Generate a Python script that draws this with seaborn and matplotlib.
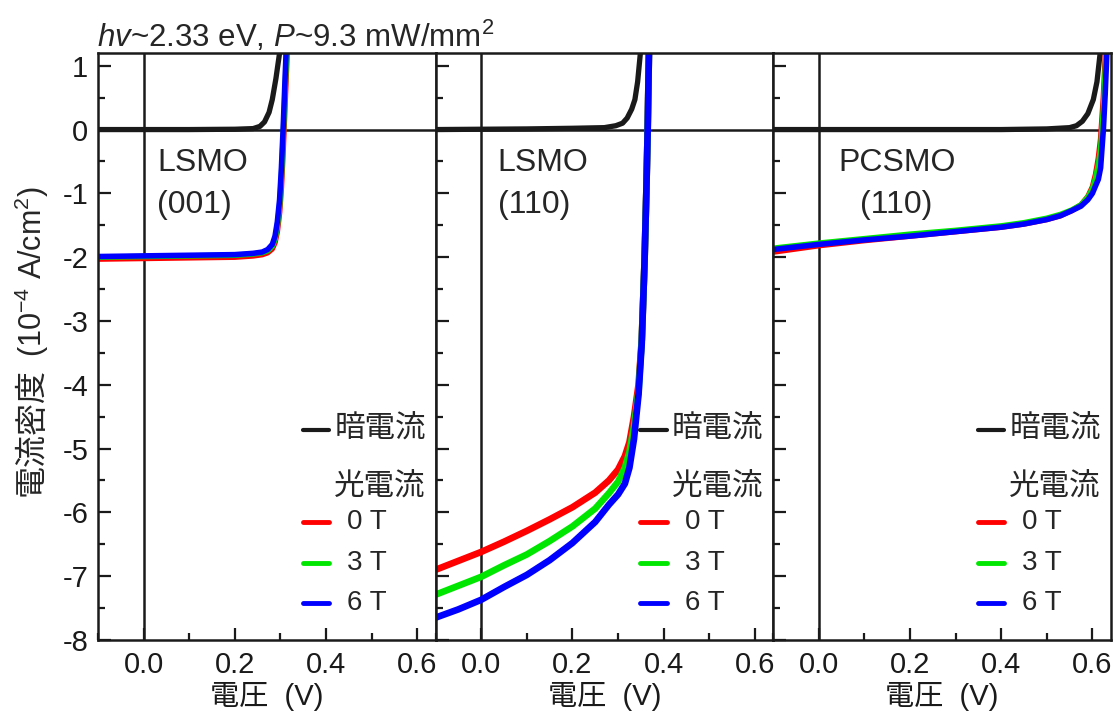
import matplotlib.pyplot as plt
from matplotlib.ticker import MultipleLocator
import seaborn as sns

# ---- data (voltage in V, current density in 1e-4 A/cm^2) ----
# LSMO (001)
v_dark_001 = [-0.1, 0.0, 0.1, 0.2, 0.24, 0.255, 0.265, 0.275, 0.282, 0.29, 0.298, 0.304]
j_dark_001 = [0.0, 0.0, 0.0, 0.005, 0.015, 0.05, 0.12, 0.27, 0.47, 0.8, 1.2, 1.6]
v_photo_001 = [-0.1, 0.0, 0.1, 0.2, 0.24, 0.26, 0.272, 0.282, 0.288, 0.293, 0.298, 0.302, 0.306, 0.31, 0.314, 0.318]
j_001_0T = [-2.03, -2.02, -2.01, -2.0, -1.98, -1.96, -1.93, -1.87, -1.77, -1.6, -1.3, -0.9, -0.3, 0.4, 1.1, 1.8]
j_001_3T = [-2.0, -1.99, -1.98, -1.97, -1.95, -1.93, -1.9, -1.83, -1.72, -1.52, -1.2, -0.75, -0.1, 0.6, 1.3, 2.0]
j_001_6T = [-1.99, -1.98, -1.97, -1.96, -1.94, -1.92, -1.88, -1.8, -1.67, -1.45, -1.1, -0.6, 0.05, 0.8, 1.5, 2.2]

# LSMO (110)
v_dark_110 = [-0.1, 0.0, 0.1, 0.2, 0.27, 0.295, 0.31, 0.32, 0.33, 0.337, 0.343, 0.349, 0.354]
j_dark_110 = [0.0, 0.005, 0.01, 0.02, 0.03, 0.06, 0.1, 0.18, 0.32, 0.47, 0.75, 1.2, 1.6]
v_photo_110 = [-0.1, -0.05, 0.0, 0.05, 0.1, 0.15, 0.2, 0.25, 0.28, 0.3, 0.315, 0.325, 0.335, 0.345, 0.352, 0.358, 0.362, 0.365, 0.368, 0.371]
j_110_0T = [-6.9, -6.76, -6.62, -6.46, -6.29, -6.11, -5.92, -5.69, -5.5, -5.33, -5.12, -4.9, -4.5, -4.0, -3.3, -2.1, -1.0, 0.0, 1.3, 2.3]
j_110_3T = [-7.29, -7.15, -7.01, -6.83, -6.66, -6.45, -6.22, -5.94, -5.7, -5.52, -5.3, -5.05, -4.65, -4.1, -3.3, -2.1, -1.0, 0.0, 1.3, 2.3]
j_110_6T = [-7.65, -7.52, -7.37, -7.17, -6.98, -6.75, -6.48, -6.15, -5.88, -5.72, -5.55, -5.3, -4.85, -4.15, -3.35, -2.1, -1.0, 0.0, 1.3, 2.3]

# PCSMO (110)
v_dark_pc = [-0.1, 0.0, 0.2, 0.4, 0.5, 0.55, 0.565, 0.578, 0.59, 0.602, 0.61, 0.617, 0.622]
j_dark_pc = [0.0, 0.0, 0.0, 0.0, 0.01, 0.03, 0.06, 0.13, 0.25, 0.47, 0.75, 1.2, 1.6]
v_photo_pc = [-0.1, 0.0, 0.1, 0.2, 0.3, 0.4, 0.45, 0.5, 0.53, 0.555, 0.575, 0.59, 0.6, 0.607, 0.613, 0.618, 0.624, 0.628, 0.632, 0.636]
j_pc_0T = [-1.92, -1.82, -1.74, -1.67, -1.6, -1.53, -1.48, -1.41, -1.35, -1.27, -1.18, -1.05, -0.9, -0.7, -0.45, -0.15, 0.5, 1.1, 1.8, 2.5]
j_pc_3T = [-1.86, -1.78, -1.71, -1.64, -1.58, -1.51, -1.46, -1.39, -1.33, -1.26, -1.18, -1.06, -0.93, -0.76, -0.55, -0.3, 0.3, 0.9, 1.6, 2.3]
j_pc_6T = [-1.88, -1.8, -1.73, -1.67, -1.6, -1.53, -1.48, -1.41, -1.35, -1.27, -1.2, -1.1, -1.0, -0.88, -0.78, -0.6, 0.0, 0.55, 1.25, 1.9]

fields = ['0 T', '3 T', '6 T']
field_colors = ['#ff0000', '#00e600', '#0000ff']
sample_names = [('LSMO', '(001)'), ('LSMO', '(110)'), ('PCSMO', '(110)')]

panels = [
    (v_dark_001, j_dark_001, v_photo_001, [j_001_0T, j_001_3T, j_001_6T], 4.0),
    (v_dark_110, j_dark_110, v_photo_110, [j_110_0T, j_110_3T, j_110_6T], 4.8),
    (v_dark_pc, j_dark_pc, v_photo_pc, [j_pc_0T, j_pc_3T, j_pc_6T], 4.0),
]
name_x = [(0.175, 0.175), (0.184, 0.184), (0.192, 0.257)]

sns.set_theme(style='ticks')
plt.rcParams['font.family'] = ['Liberation Sans', 'Noto Sans CJK JP', 'DejaVu Sans']
plt.rcParams['axes.unicode_minus'] = False
plt.rcParams['mathtext.fontset'] = 'custom'
plt.rcParams['mathtext.rm'] = 'Liberation Sans'
plt.rcParams['mathtext.it'] = 'Liberation Sans:italic'

fig, axes = plt.subplots(1, 3, figsize=(11.14, 7.22), dpi=100, sharey=True,
                         gridspec_kw={'wspace': 0})
fig.subplots_adjust(left=0.088, right=0.997, top=0.9266, bottom=0.1136)

for ax, (vd, jd, vp, jps, lw), name, nx in zip(axes, panels, sample_names, name_x):
    ax.axhline(0, color='k', lw=1.8, zorder=1)
    ax.axvline(0, color='k', lw=1.8, zorder=1)
    sns.lineplot(x=vd, y=jd, color='k', lw=3.8, sort=False, estimator=None, ax=ax)
    for jp, c in zip(jps, field_colors):
        sns.lineplot(x=vp, y=jp, color=c, lw=lw, sort=False, estimator=None, ax=ax)

    ax.set_xlim(-0.1, 0.64)
    ax.set_ylim(-8, 1.2)
    ax.xaxis.set_major_locator(MultipleLocator(0.2))
    ax.xaxis.set_minor_locator(MultipleLocator(0.1))
    ax.yaxis.set_major_locator(MultipleLocator(1))
    ax.yaxis.set_minor_locator(MultipleLocator(0.5))
    ax.tick_params(which='both', direction='in', top=False, right=False,
                   color='k', width=1.6, labelcolor='k', labelsize=21)
    ax.tick_params(which='major', length=9)
    ax.tick_params(which='minor', length=5)
    ax.tick_params(axis='x', pad=8)
    ax.tick_params(axis='y', pad=7)
    for s in ax.spines.values():
        s.set_color('k')
        s.set_linewidth(1.8)

    ax.set_xlabel('電圧  (V)', fontsize=21, color='k', labelpad=2)

    # sample name
    ax.text(nx[0], 0.813, name[0], transform=ax.transAxes, fontsize=23, va='center', ha='left')
    ax.text(nx[1], 0.741, name[1], transform=ax.transAxes, fontsize=23, va='center', ha='left')

    # hand-made legend
    ax.plot([0.607, 0.685], [0.358, 0.358], transform=ax.transAxes, color='k', lw=3)
    ax.text(0.70, 0.358, '暗電流', transform=ax.transAxes, fontsize=22, va='center', ha='left')
    ax.text(0.70, 0.259, '光電流', transform=ax.transAxes, fontsize=22, va='center', ha='left')
    for lab, c, yy in zip(fields, field_colors, [0.201, 0.131, 0.063]):
        ax.plot([0.607, 0.685], [yy, yy], transform=ax.transAxes, color=c, lw=3.5)
        ax.text(0.738, yy, lab, transform=ax.transAxes, fontsize=20, va='center', ha='left')

# y label in two pieces so the unit can use real superscripts
fig.text(0.029, 0.49, '電流密度', rotation=90, fontsize=23, ha='center', va='top')
fig.text(0.029, 0.505, r'(10$^{-4}$ A/cm$^2$)', rotation=90, fontsize=22, ha='center', va='bottom')

axes[0].text(-0.003, 1.01, r'$hv$~2.33 eV, $P$~9.3 mW/mm$^2$', transform=axes[0].transAxes,
             fontsize=22.5, ha='left', va='baseline')

fig.savefig('out.png', dpi=100)
